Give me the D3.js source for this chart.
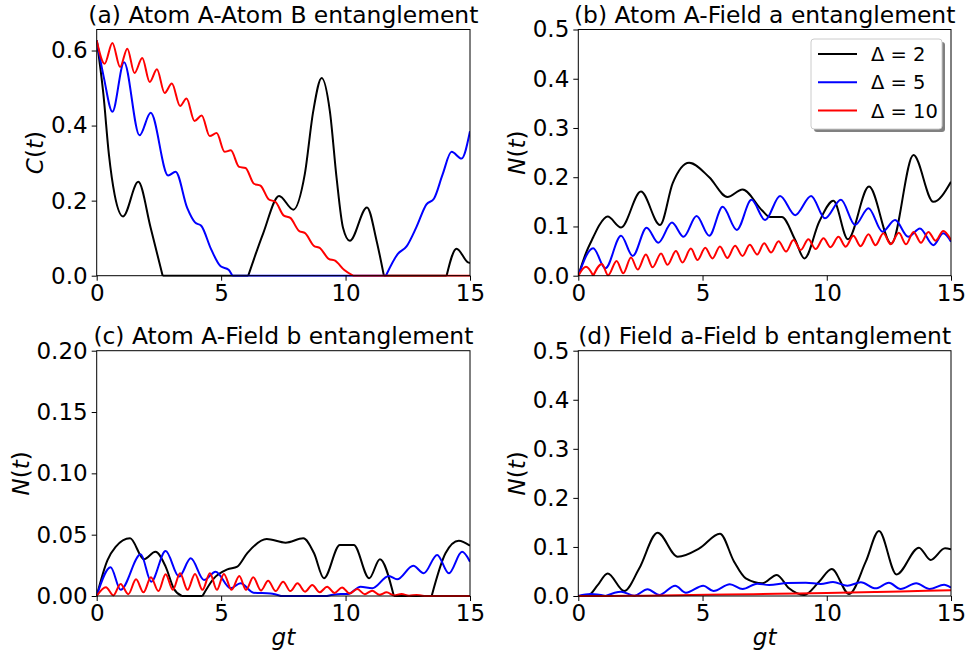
<!DOCTYPE html>
<html>
<head>
<meta charset="utf-8">
<script src="https://cdn.jsdelivr.net/npm/d3@7"></script>
<style>
  body { margin: 0; background: #fff; }
  text { font-family: "DejaVu Sans", sans-serif; fill: #000; }
</style>
</head>
<body>
<svg id="fig" width="970" height="656"></svg>
<script>
// ---- tick values and labels ----
const xTicks = [0, 5, 10, 15];
const yTicksA = [0, 0.2, 0.4, 0.6];
const yTicksBD = [0, 0.1, 0.2, 0.3, 0.4, 0.5];
const yTicksC = [0, 0.05, 0.1, 0.15, 0.2];

const detunings = [2, 5, 10];
const seriesColors = ["#000000", "#0000ff", "#ff0000"];
const panelTitles = [
  "(a) Atom A-Atom B entanglement",
  "(b) Atom A-Field a entanglement",
  "(c) Atom A-Field b entanglement",
  "(d) Field a-Field b entanglement"
];

// ---- (a) concurrence between the two atoms, [gt, C] ----
const atomAtom_d2 = [[0,0.627],[0.27,0.483],[0.49,0.323],[0.72,0.216],[1.06,0.158],[1.67,0.25],[2.17,0.127],[2.65,0],[6.09,0],[6.69,0.113],[7.33,0.2125],[7.9,0.176],[8.36,0.27],[8.7,0.438],[9.04,0.527],[9.37,0.438],[9.64,0.26],[9.9,0.127],[10.17,0.093],[10.86,0.182],[11.25,0.092],[11.54,0],[14.06,0],[14.46,0.072],[14.92,0.0355],[15,0.034]];
const atomAtom_d5 = [[0,0.627],[0.29,0.527],[0.63,0.437],[1.1,0.569],[1.72,0.374],[2.17,0.434],[2.87,0.267],[3.17,0.277],[3.64,0.18],[3.95,0.142],[4.2,0.133],[4.6,0.07],[4.98,0.025],[5.3,0.016],[5.45,0],[11.62,0],[12.1,0.058],[12.45,0.078],[12.85,0.13],[13.25,0.19],[13.55,0.205],[13.9,0.27],[14.26,0.33],[14.66,0.312],[15,0.385]];
const atomAtom_d10 = [[0,0.627],[0.32,0.565],[0.63,0.62],[0.94,0.556],[1.23,0.605],[1.52,0.54],[1.83,0.58],[2.13,0.516],[2.42,0.55],[2.73,0.487],[3.02,0.512],[3.35,0.452],[3.61,0.472],[3.93,0.412],[4.22,0.427],[4.54,0.372],[4.82,0.38],[5.14,0.33],[5.39,0.334],[5.72,0.29],[5.98,0.287],[6.32,0.245],[6.58,0.24],[6.92,0.203],[7.18,0.197],[7.52,0.16],[7.78,0.154],[8.12,0.12],[8.38,0.113],[8.72,0.08],[8.98,0.073],[9.32,0.045],[9.58,0.04],[9.95,0.015],[10.3,0],[15,0]];

// ---- (b) negativity, atom A with field a ----
const atomFieldA_d2 = [[0,0],[0.3,0.045],[0.6,0.078],[0.85,0.103],[1.18,0.12],[1.72,0.098],[2.52,0.171],[3.29,0.103],[3.8,0.188],[4.46,0.2295],[5.27,0.2],[6.0,0.16],[6.61,0.175],[7.39,0.133],[7.72,0.119],[8.19,0.119],[8.73,0.0725],[9.1,0.035],[9.7,0.11],[10.27,0.152],[10.85,0.074],[11.7,0.181],[12.6,0.065],[13.49,0.245],[14.29,0.15],[15,0.191]];
const atomFieldA_d5 = [[0,0],[0.6,0.0556],[1.09,0.015],[1.72,0.081],[2.19,0.04],[2.75,0.0975],[3.22,0.067],[3.77,0.108],[4.24,0.079],[4.76,0.121],[5.27,0.081],[5.81,0.14],[6.38,0.093],[6.97,0.154],[7.52,0.113],[8.12,0.162],[8.73,0.123],[9.37,0.162],[9.93,0.1165],[10.57,0.154],[11.14,0.103],[11.68,0.137],[12.24,0.0895],[12.75,0.113],[13.28,0.079],[13.75,0.096],[14.29,0.062],[14.69,0.086],[15,0.069]];
const atomFieldA_d10 = [[0,0],[0.31,0.018],[0.6,0],[0.95,0.024],[1.2,0.001],[1.54,0.03],[1.81,0.005],[2.12,0.037],[2.39,0.0125],[2.72,0.043],[2.99,0.017],[3.33,0.045],[3.59,0.022],[3.93,0.05],[4.19,0.027],[4.53,0.055],[4.8,0.032],[5.11,0.057],[5.4,0.035],[5.7,0.0595],[6.0,0.036],[6.31,0.061],[6.61,0.04],[6.9,0.063],[7.2,0.043],[7.48,0.066],[7.76,0.047],[8.06,0.07],[8.36,0.049],[8.66,0.0725],[8.95,0.052],[9.26,0.074],[9.55,0.054],[9.87,0.076],[10.15,0.058],[10.47,0.079],[10.76,0.059],[11.07,0.081],[11.36,0.06],[11.68,0.084],[11.96,0.062],[12.28,0.086],[12.57,0.064],[12.9,0.087],[13.19,0.064],[13.49,0.089],[13.79,0.067],[14.09,0.089],[14.38,0.071],[14.69,0.091],[15,0.0725]];

// ---- (c) negativity, atom A with field b ----
const atomFieldB_d2 = [[0,0],[0.43,0.029],[0.76,0.04],[1.34,0.047],[1.9,0.03],[2.36,0.036],[2.77,0.024],[3.1,0.006],[3.42,0],[4.25,0],[4.71,0.0144],[5.25,0.0217],[5.65,0.024],[6.05,0.035],[6.83,0.0465],[7.59,0.0435],[8.3,0.047],[8.73,0.035],[9.13,0.0144],[9.77,0.0416],[10.33,0.0416],[10.95,0.0144],[11.38,0.03],[11.94,0],[13.46,0],[14.02,0.035],[14.55,0.045],[15,0.041]];
const atomFieldB_d5 = [[0,0],[0.56,0.0234],[0.96,0.005],[1.77,0.034],[2.19,0.0117],[2.77,0.0367],[3.31,0.0158],[3.78,0.0307],[4.31,0.013],[4.78,0.0198],[5.38,0.0063],[5.78,0.0103],[6.3,0.0027],[6.99,0.002],[7.4,0],[9.26,0],[9.8,0.0016],[10.1,0.0016],[10.6,0.0076],[11.07,0.0063],[11.74,0.0163],[12.07,0.0136],[12.72,0.0247],[13.14,0.0185],[13.68,0.0334],[14.15,0.0185],[14.68,0.036],[15,0.028]];
const atomFieldB_d10 = [[0,0],[0.37,0.0071],[0.67,0.0005],[0.96,0.0098],[1.27,0.0015],[1.58,0.0136],[1.88,0.003],[2.18,0.0152],[2.48,0.004],[2.77,0.0177],[3.06,0.005],[3.35,0.0185],[3.65,0.005],[3.95,0.018],[4.25,0.005],[4.55,0.0185],[4.83,0.005],[5.11,0.018],[5.42,0.005],[5.73,0.0163],[6.0,0.005],[6.29,0.0152],[6.6,0.0045],[6.89,0.0125],[7.19,0.004],[7.49,0.0117],[7.78,0.004],[8.07,0.0103],[8.37,0.0035],[8.66,0.009],[8.96,0.003],[9.26,0.0076],[9.56,0.0025],[9.86,0.007],[10.16,0.002],[10.47,0.0057],[10.77,0.0015],[11.07,0.0043],[11.36,0.001],[11.65,0.003],[11.95,0.0005],[12.25,0.0016],[12.55,0.0003],[12.85,0.0008],[13.15,0],[15,0]];

// ---- (d) negativity between the two fields ----
const fieldField_d2 = [[0,0],[0.4,0.001],[0.78,0.022],[1.18,0.046],[1.85,0.0102],[2.45,0.056],[3.19,0.129],[4.0,0.08],[4.87,0.097],[5.7,0.127],[6.27,0.07],[6.74,0.036],[7.41,0.026],[7.99,0.043],[8.48,0.0156],[9.09,0.002],[9.69,0.029],[10.2,0.055],[10.9,0.004],[11.57,0.07],[12.1,0.1325],[12.81,0.044],[13.71,0.0985],[14.18,0.0734],[14.76,0.0972],[15,0.095]];
const fieldField_d5 = [[0,0],[0.5,0.004],[1.1,0],[1.72,0.0088],[2.25,0.0007],[2.79,0.0136],[3.26,0.002],[3.9,0.021],[4.33,0.0068],[5.03,0.021],[5.44,0.01],[6.1,0.024],[6.61,0.0143],[7.2,0.025],[7.68,0.0224],[8.42,0.0265],[9.16,0.027],[9.76,0.0245],[10.25,0.0285],[10.83,0.021],[11.37,0.028],[11.97,0.0156],[12.5,0.027],[12.97,0.0143],[13.6,0.0258],[14.14,0.0143],[14.72,0.023],[15,0.017]];
const fieldField_d10 = [[0,0],[2,0.0005],[4,0.0015],[6,0.003],[8,0.0045],[10,0.006],[12,0.008],[14,0.0105],[15,0.0115]];

// ---- panel layout ----
const panels = [
  { title: panelTitles[0], x0: 96.7, x1: 470, y0: 29.5, y1: 275.7, yMax: 0.656, yTicks: yTicksA, fmt: ".1f",
    yName: "C", yLabelX: 43, series: [atomAtom_d2, atomAtom_d5, atomAtom_d10], legend: false, xLabel: false },
  { title: panelTitles[1], x0: 578.3, x1: 951, y0: 29.5, y1: 275.7, yMax: 0.5, yTicks: yTicksBD, fmt: ".1f",
    yName: "N", yLabelX: 525, series: [atomFieldA_d2, atomFieldA_d5, atomFieldA_d10], legend: true, xLabel: false },
  { title: panelTitles[2], x0: 96.7, x1: 470, y0: 350.7, y1: 596, yMax: 0.2, yTicks: yTicksC, fmt: ".2f",
    yName: "N", yLabelX: 29, series: [atomFieldB_d2, atomFieldB_d5, atomFieldB_d10], legend: false, xLabel: true },
  { title: panelTitles[3], x0: 578.3, x1: 951, y0: 350.7, y1: 596, yMax: 0.5, yTicks: yTicksBD, fmt: ".1f",
    yName: "N", yLabelX: 525, series: [fieldField_d2, fieldField_d5, fieldField_d10], legend: false, xLabel: true }
];

const svg = d3.select("#fig");
const FS = 23;
const TITLE_FS = 23.4;

// Split a curve at its clipped (zero) points so each arch is smoothed on its own
function splitAtZeros(pts) {
  const segs = [];
  let cur = [pts[0]];
  for (let i = 1; i < pts.length; i++) {
    cur.push(pts[i]);
    if (pts[i][1] === 0 && i < pts.length - 1) { segs.push(cur); cur = [pts[i]]; }
  }
  segs.push(cur);
  return segs;
}

panels.forEach((p, pi) => {
  const x = d3.scaleLinear().domain([0, 15]).range([p.x0, p.x1]);
  const y = d3.scaleLinear().domain([0, p.yMax]).range([p.y1, p.y0]);
  const g = svg.append("g");

  const clipId = "clip" + pi;
  g.append("clipPath").attr("id", clipId).append("rect")
    .attr("x", p.x0).attr("y", p.y0 - 1).attr("width", p.x1 - p.x0).attr("height", p.y1 - p.y0 + 2);

  // curves
  const line = d3.line().x(d => x(d[0])).y(d => y(d[1])).curve(d3.curveMonotoneX);
  const plot = g.append("g").attr("clip-path", `url(#${clipId})`);
  p.series.forEach((s, si) => {
    const dStr = splitAtZeros(s).map(seg => line(seg)).join("");
    plot.append("path").attr("d", dStr).attr("fill", "none")
      .attr("stroke", seriesColors[si]).attr("stroke-width", 2)
      .attr("stroke-linejoin", "round").attr("stroke-linecap", "butt");
  });

  // axes
  const xAxis = d3.axisBottom(x).tickValues(xTicks).tickFormat(d3.format("d"))
    .tickSize(5).tickPadding(4).tickSizeOuter(0);
  const yAxis = d3.axisLeft(y).tickValues(p.yTicks).tickFormat(d3.format(p.fmt))
    .tickSize(5).tickPadding(4).tickSizeOuter(0);
  const gx = g.append("g").attr("transform", `translate(0,${p.y1})`).call(xAxis);
  const gy = g.append("g").attr("transform", `translate(${p.x0},0)`).call(yAxis);
  [gx, gy].forEach(a => {
    a.select(".domain").remove();
    a.selectAll("text").attr("font-size", FS).attr("font-family", "DejaVu Sans").attr("fill", "#000");
    a.selectAll("line").attr("stroke", "#000").attr("stroke-width", 1);
  });

  // frame
  g.append("rect").attr("x", p.x0).attr("y", p.y0)
    .attr("width", p.x1 - p.x0).attr("height", p.y1 - p.y0)
    .attr("fill", "none").attr("stroke", "#000").attr("stroke-width", 1);

  // title
  g.append("text").attr("x", (p.x0 + p.x1) / 2).attr("y", p.y0 - 6.3)
    .attr("text-anchor", "middle").attr("font-size", TITLE_FS).text(p.title);

  // y label
  const yl = g.append("text")
    .attr("transform", `translate(${p.yLabelX},${(p.y0 + p.y1) / 2}) rotate(-90)`)
    .attr("text-anchor", "middle").attr("font-size", FS);
  yl.append("tspan").attr("font-style", "italic").text(p.yName);
  yl.append("tspan").text("(");
  yl.append("tspan").attr("font-style", "italic").text("t");
  yl.append("tspan").text(")");

  // x label
  if (p.xLabel) {
    g.append("text").attr("x", (p.x0 + p.x1) / 2).attr("y", p.y1 + 49)
      .attr("text-anchor", "middle").attr("font-size", FS).attr("font-style", "italic").text("gt");
  }

  // legend
  if (p.legend) {
    const lg = g.append("g");
    const bx = 811, by = 39, bw = 131, bh = 90;
    lg.append("rect").attr("x", bx + 3).attr("y", by + 3).attr("width", bw).attr("height", bh)
      .attr("rx", 3).attr("fill", "#808080");
    lg.append("rect").attr("x", bx).attr("y", by).attr("width", bw).attr("height", bh)
      .attr("rx", 3).attr("fill", "#ffffff").attr("stroke", "#cccccc").attr("stroke-width", 1);
    detunings.forEach((dv, i) => {
      const ly = 54 + i * 28.2;
      lg.append("line").attr("x1", 818).attr("x2", 857).attr("y1", ly).attr("y2", ly)
        .attr("stroke", seriesColors[i]).attr("stroke-width", 2);
      lg.append("text").attr("x", 871).attr("y", ly + 7.2).attr("font-size", 19.5)
        .text("\u0394 = " + dv);
    });
  }
});
</script>
</body>
</html>
